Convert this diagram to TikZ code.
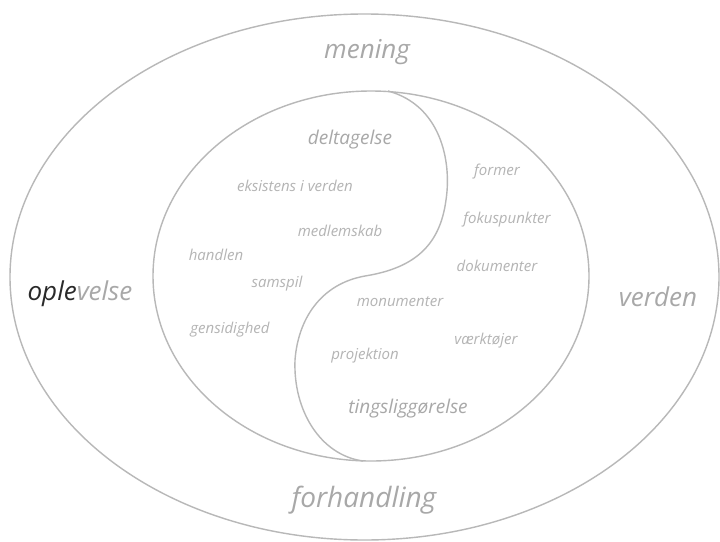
\documentclass[tikz,border=0pt]{standalone}
\usepackage{fontspec}
\setmainfont{Open Sans}
\definecolor{linegray}{HTML}{B8B8B8}
\definecolor{txtgray}{HTML}{A8A8A8}
\definecolor{lightgray2}{HTML}{B4B4B4}
\definecolor{darktxt}{HTML}{2A2A2A}
\begin{document}
\begin{tikzpicture}[x=1pt,y=-1pt,
  ring/.style={draw=linegray,line width=1.4pt},
  big/.style={text=txtgray,font=\itshape\fontsize{26}{30}\selectfont,inner sep=0pt},
  mid/.style={text=txtgray,font=\itshape\fontsize{19}{22}\selectfont,inner sep=0pt},
  small/.style={text=lightgray2,font=\itshape\fontsize{15}{18}\selectfont,inner sep=0pt}]
\useasboundingbox (0,0) rectangle (720,541);
\fill[white] (0,0) rectangle (720,541);
% outer and inner ellipses
\draw[ring] (364.5,277) ellipse [x radius=354.5pt, y radius=263pt];
\draw[ring] (371,276) ellipse [x radius=218pt, y radius=185pt];
% S-curve
\coordinate (top) at (388,91);
\coordinate (midpt) at (365,276);
\coordinate (bot) at (363,461);
\draw[ring] (top) .. controls (440,105) and (452,160) .. (446,200)
  .. controls (440,245) and (415,268) .. (midpt)
  .. controls (320,284) and (298,320) .. (295,360)
  .. controls (293,410) and (320,455) .. (bot);
% outer labels
\node[big] (mening) at (367,52) {mening};
\node[big,font=\itshape\fontsize{28}{32}\selectfont] (forhandling) at (364,500) {forhandling};
\node[big] (oplevelse) at (80,294) {\textcolor{darktxt}{ople}velse};
\node[big] (verden) at (658,297) {verden};
% left (participation) side
\node[mid] (deltagelse) at (350,140) {deltagelse};
\node[small] (eksistens) at (295,186) {eksistens i verden};
\node[small] (medlemskab) at (340,231) {medlemskab};
\node[small] (handlen) at (216,255) {handlen};
\node[small] (samspil) at (277,284) {samspil};
\node[small] (gensidighed) at (230,330) {gensidighed};
% right (reification) side
\node[small] (former) at (497,172) {former};
\node[small] (fokuspunkter) at (507,220) {fokuspunkter};
\node[small] (dokumenter) at (497,266) {dokumenter};
\node[small] (monumenter) at (400,302) {monumenter};
\node[small] (vaerktojer) at (486,341) {værktøjer};
\node[small] (projektion) at (365,356) {projektion};
\node[mid] (tingsliggorelse) at (408,409) {tingsliggørelse};
\end{tikzpicture}
\end{document}
